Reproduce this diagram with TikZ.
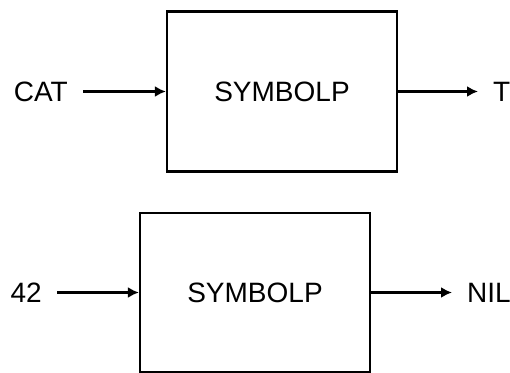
\documentclass[tikz,border=0pt]{standalone}
\usepackage{fontspec}
\setmainfont{Liberation Sans}
\usetikzlibrary{arrows.meta}

\begin{document}
\begin{tikzpicture}[x=1pt, y=1pt, font=\fontsize{28}{32}\selectfont,
  fbox/.style={draw, line width=2.2pt, minimum width=230pt, minimum height=160pt, inner sep=0pt},
  lbl/.style={inner xsep=15pt, inner ysep=0pt},
  flow/.style={-{Latex[length=11pt,width=11pt]}, line width=2.4pt}]
\useasboundingbox (0,0) rectangle (510,372);
\node[fbox] (sym1) at (282,280.5) {SYMBOLP};
\node[lbl, anchor=east] (cat) at (83,280.5) {CAT};
\node[lbl, anchor=west] (t) at (478,280.5) {T};
\draw[flow] (cat) -- (sym1);
\draw[flow] (sym1) -- (t);
\node[fbox, minimum height=159pt] (sym2) at (255,79.5) {SYMBOLP};
\node[lbl, anchor=east] (num) at (57,79.5) {42};
\node[lbl, anchor=west] (nil) at (452,79.5) {NIL};
\draw[flow] (num) -- (sym2);
\draw[flow] (sym2) -- (nil);
\end{tikzpicture}
\end{document}
